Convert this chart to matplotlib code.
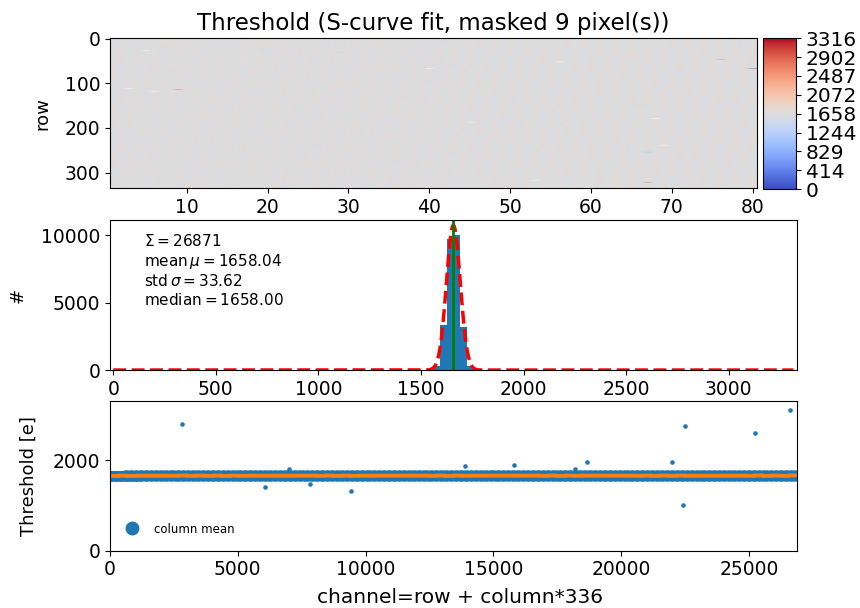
import numpy as np
import matplotlib
matplotlib.use('Agg')
import matplotlib.pyplot as plt
from matplotlib.lines import Line2D

# pixel matrix: 80 columns x 336 rows, channel = row + (column-1)*336
n_col = 80
n_row = 336

# threshold levels (bin centres) and how many pixels sit at each
levels = [1575, 1608, 1641, 1675, 1708, 1741]
level_counts = [290, 3330, 9756, 10000, 3210, 271]

# single pixels away from the bulk (column, row, threshold)
out_col = [9, 19, 21, 24, 29, 42, 48, 55, 56, 66, 67, 67, 76, 80]
out_row = [115, 22, 288, 88, 32, 99, 4, 44, 192, 152, 255, 323, 48, 68]
out_val = [2794, 1411, 1817, 1471, 1323, 1883, 1905, 1817, 1971, 1971, 1014, 2765, 2611, 3103]

# masked pixels (column, row)
mask_col = [5, 3, 6, 40, 56, 45, 68, 69, 53]
mask_row = [28, 113, 119, 68, 53, 188, 180, 240, 318]

# numbers printed in the histogram box
n_entries = 26871
mean_thr = 1658.04
std_thr = 33.62
median_thr = 1658.00
fit_amp = 10760

z_max = 3316
cbar_ticks = [0, 414, 829, 1244, 1658, 2072, 2487, 2902, 3316]

# build the per channel array
n_ch = n_col * n_row
thr = np.full(n_ch, np.nan)
used = np.zeros(n_ch, dtype=bool)
for c, r in zip(mask_col, mask_row):
    used[r + (c - 1) * n_row] = True
for c, r, v in zip(out_col, out_row, out_val):
    ch = r + (c - 1) * n_row
    thr[ch] = v
    used[ch] = True
free = np.where(~used)[0]
order = np.concatenate([free[s::97] for s in range(97)])
thr[order] = np.repeat(levels, level_counts)

hmap = thr.reshape(n_col, n_row).T
col_mean = np.nanmean(hmap, axis=0)

fig = plt.figure(figsize=(8.6, 6.08), dpi=100)

# --- top: threshold map
ax1 = fig.add_axes([0.1279, 0.690, 0.7518, 0.2467])
cmap = plt.get_cmap('coolwarm').copy()
cmap.set_bad('w')
im = ax1.imshow(np.ma.masked_invalid(hmap), cmap=cmap, vmin=0, vmax=z_max, aspect='auto',
                extent=(0.5, n_col + 0.5, n_row - 0.5, -0.5))
ax1.set_title('Threshold (S-curve fit, masked %d pixel(s))' % len(mask_col), fontsize=16.5)
ax1.set_ylabel('row', fontsize=13)
ax1.yaxis.set_label_coords(-0.09, 0.5)
ax1.set_xticks(range(10, 81, 10))
ax1.set_yticks([0, 100, 200, 300])
ax1.tick_params(labelsize=13.5)
cax = fig.add_axes([0.8876, 0.6888, 0.038, 0.2484])
cb = fig.colorbar(im, cax=cax, ticks=cbar_ticks)
cb.ax.set_yticklabels([str(t) for t in cbar_ticks])
cb.ax.tick_params(labelsize=14.5)

# --- middle: histogram
ax2 = fig.add_axes([0.1279, 0.3914, 0.7988, 0.2467])
vals = thr[~np.isnan(thr)]
bins = np.linspace(0, z_max, 101)
ax2.hist(vals, bins=bins, color='C0')
xg = np.linspace(0, z_max, 1000)
ax2.plot(xg, fit_amp * np.exp(-(xg - mean_thr) ** 2 / (2 * std_thr ** 2)), 'r--', lw=2.5)
ax2.axvline(median_thr, color='g', lw=2)
ax2.set_xlim(-16, 3333)
ax2.set_ylim(0, 11140)
ax2.set_yticks([0, 5000, 10000])
ax2.set_ylabel('#', fontsize=13)
ax2.yaxis.set_label_coords(-0.122, 0.5)
ax2.tick_params(labelsize=13.5)
txt = ('$\\Sigma=%d$\n$\\mathrm{mean}\\,\\mu=%.2f$\n$\\mathrm{std}\\,\\sigma=%.2f$\n$\\mathrm{median}=%.2f$'
       % (n_entries, mean_thr, std_thr, median_thr))
ax2.text(0.05, 0.915, txt, transform=ax2.transAxes, va='top', fontsize=11)

# --- bottom: threshold per channel
ax3 = fig.add_axes([0.1279, 0.0942, 0.7988, 0.2467])
ch = np.arange(n_ch)
ax3.plot(ch, thr, 'o', color='C0', ms=2.8, mew=0.4)
ax3.plot(ch, np.repeat(col_mean, n_row), '-', color='C1', lw=2.8)
ax3.set_xlim(0, n_ch)
ax3.set_ylim(0, z_max)
ax3.set_yticks([0, 2000])
ax3.set_xlabel('channel=row + column*336', fontsize=14.5)
ax3.xaxis.set_label_coords(0.51, -0.25)
ax3.set_ylabel('Threshold [e]', fontsize=13)
ax3.yaxis.set_label_coords(-0.105, 0.5)
ax3.tick_params(labelsize=13.5)
handle = Line2D([], [], ls='', marker='o', color='C0', ms=9)
ax3.legend([handle], ['column mean'], loc='lower left', frameon=False, fontsize=8.5,
           bbox_to_anchor=(0.0, 0.03))

fig.savefig('out.png', dpi=100)
